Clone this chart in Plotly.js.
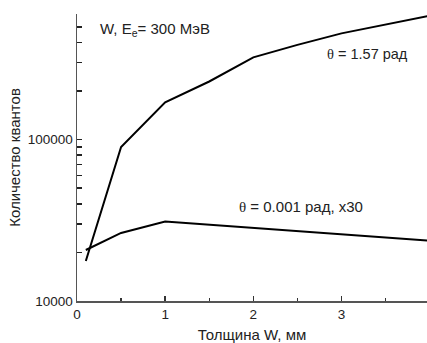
<!DOCTYPE html>
<html>
<head>
<meta charset="utf-8">
<script src="https://cdn.plot.ly/plotly-3.0.1.min.js"></script>
<style>html,body{margin:0;padding:0;background:#fff;}#chart{width:427px;height:343px;}</style>
</head>
<body>
<div id="chart"></div>
<script>
// Data
var thicknessA = [0.1, 0.5, 1, 1.5, 2, 2.5, 3, 3.5, 4];
var quantaA = [17700, 90000, 170000, 229000, 323000, 386000, 455000, 518000, 585000]; // theta = 1.57 rad
var thicknessB = [0.1, 0.5, 1, 2, 3, 4];
var quantaB = [20700, 26400, 31100, 28400, 25700, 23600]; // theta = 0.001 rad, x30
var xTickVals = [0, 1, 2, 3, 4];
var yTickVals = [10000, 20000, 30000, 40000, 50000, 60000, 70000, 80000, 90000,
                 100000, 200000, 300000, 400000, 500000];
var yTickText = ['10000', '', '', '', '', '', '', '', '',
                 '100000', '', '', '', ''];

var fontFam = 'Liberation Sans, Arial, sans-serif';
var traces = [
  {x: thicknessA, y: quantaA, mode: 'lines', line: {color: '#000', width: 2}, hoverinfo: 'none'},
  {x: thicknessB, y: quantaB, mode: 'lines', line: {color: '#000', width: 2}, hoverinfo: 'none'}
];
var layout = {
  width: 427, height: 343,
  margin: {l: 77, r: 0, t: 14, b: 42},
  paper_bgcolor: '#fff', plot_bgcolor: '#fff',
  showlegend: false,
  font: {family: fontFam, size: 14, color: '#222'},
  xaxis: {
    range: [0, 3.97], tickvals: xTickVals, ticks: 'inside', ticklen: 5, tickwidth: 1.4, tickcolor: '#333',
    showline: true, linecolor: '#555', linewidth: 1.5, showgrid: false, zeroline: false,
    minor: {dtick: 0.5, ticks: 'inside', ticklen: 3, tickwidth: 1.4, tickcolor: '#333', showgrid: false},
    tickfont: {size: 13.5}, title: {text: 'Толщина W, мм', font: {size: 15}, standoff: 14}
  },
  yaxis: {
    type: 'log', range: [4, 5.778], tickmode: 'array', tickvals: yTickVals, ticktext: yTickText,
    ticks: 'inside', ticklen: 5, tickwidth: 1.5, tickcolor: '#222',
    showline: true, linecolor: '#555', linewidth: 1.5, showgrid: false, zeroline: false,
    tickfont: {size: 13.5}, title: {text: 'Количество квантов', font: {size: 15}, standoff: 3}
  },
  annotations: [
    {xref: 'paper', yref: 'paper', x: 0.223, y: 0.945, xanchor: 'center', yanchor: 'middle', showarrow: false,
     text: 'W, E<sub>e</sub>= 300 МэВ', font: {size: 15, color: '#222'}},
    {xref: 'paper', yref: 'paper', x: 0.829, y: 0.859, xanchor: 'center', yanchor: 'middle', showarrow: false,
     text: '<span style="font-family:Liberation Serif">θ</span> = 1.57 рад', font: {size: 14.5, color: '#222'}},
    {xref: 'paper', yref: 'paper', x: 0.64, y: 0.329, xanchor: 'center', yanchor: 'middle', showarrow: false,
     text: '<span style="font-family:Liberation Serif">θ</span> = 0.001 рад, x30', font: {size: 15, color: '#222'}}
  ]
};
Plotly.newPlot('chart', traces, layout, {staticPlot: true, displayModeBar: false});
</script>
</body>
</html>
